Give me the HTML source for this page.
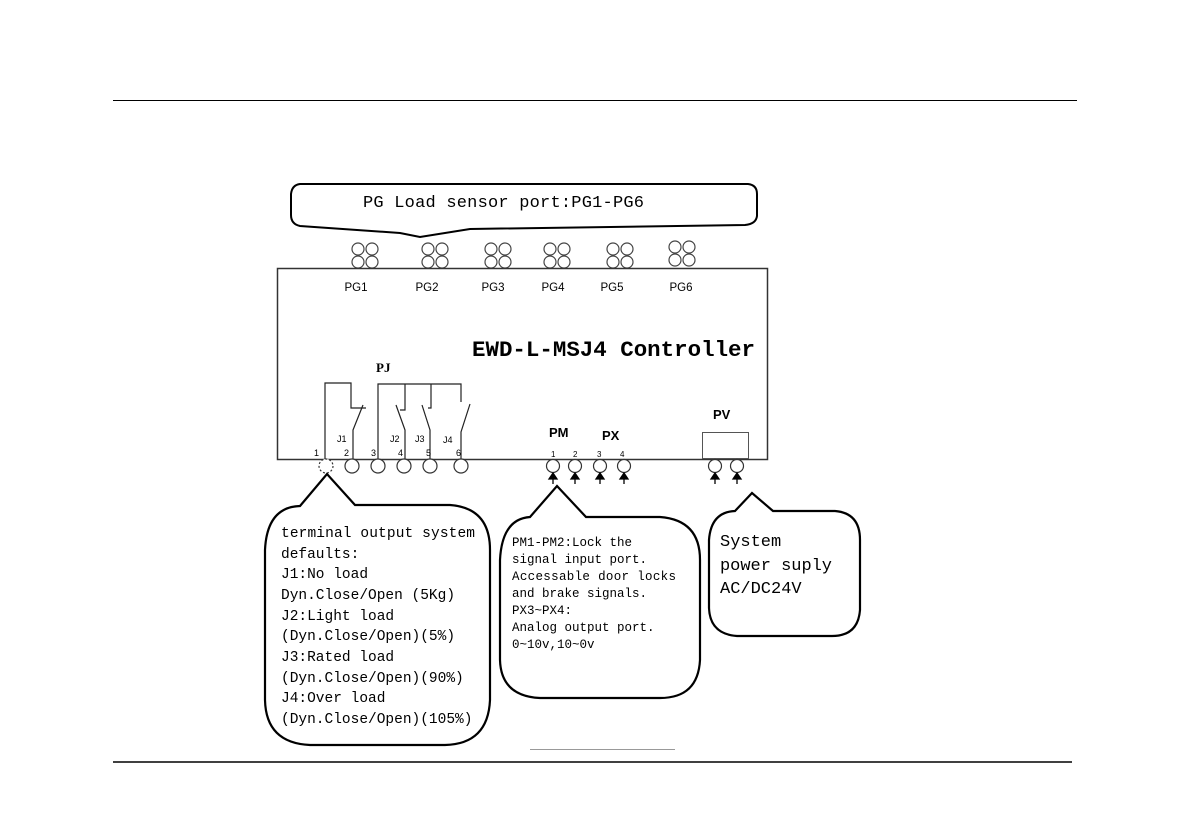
<!DOCTYPE html>
<html><head><meta charset="utf-8"><style>
html,body{margin:0;padding:0;background:#fff;}
svg{display:block;}
.m{font-family:"Liberation Mono","Noto Serif CJK SC",monospace;fill:#000;}
.s{font-family:"Liberation Sans",sans-serif;fill:#000;}
</style></head><body>
<svg width="1192" height="829" viewBox="0 0 1192 829" xmlns="http://www.w3.org/2000/svg">
<line x1="113" y1="100.5" x2="1077" y2="100.5" stroke="#000" stroke-width="1"/>
<line x1="113" y1="762" x2="1072" y2="762" stroke="#000" stroke-width="1.6"/>
<line x1="530" y1="749.5" x2="675" y2="749.5" stroke="#999" stroke-width="1"/>

<path d="M300,184 L748,184 Q757,185 757,194 L757,216 Q756,224 745,225 L470,229 L420,237 L400,233 L300,226 Q291,224 291,215 L291,194 Q292,185 300,184 Z" fill="#fff" stroke="#000" stroke-width="2"/>
<text class="m" x="363" y="207" font-size="17" textLength="281">PG Load sensor port:PG1-PG6</text>

<g fill="none" stroke="#444" stroke-width="1.2">
<circle cx="358" cy="249" r="6"/><circle cx="372" cy="249" r="6"/><circle cx="358" cy="262" r="6"/><circle cx="372" cy="262" r="6"/>
<circle cx="428" cy="249" r="6"/><circle cx="442" cy="249" r="6"/><circle cx="428" cy="262" r="6"/><circle cx="442" cy="262" r="6"/>
<circle cx="491" cy="249" r="6"/><circle cx="505" cy="249" r="6"/><circle cx="491" cy="262" r="6"/><circle cx="505" cy="262" r="6"/>
<circle cx="550" cy="249" r="6"/><circle cx="564" cy="249" r="6"/><circle cx="550" cy="262" r="6"/><circle cx="564" cy="262" r="6"/>
<circle cx="613" cy="249" r="6"/><circle cx="627" cy="249" r="6"/><circle cx="613" cy="262" r="6"/><circle cx="627" cy="262" r="6"/>
<circle cx="675" cy="247" r="6"/><circle cx="689" cy="247" r="6"/><circle cx="675" cy="260" r="6"/><circle cx="689" cy="260" r="6"/>
</g>

<rect x="277.5" y="268.5" width="490" height="191" fill="#fff" stroke="#333" stroke-width="1.5"/>
<g class="s" font-size="11.5">
<text x="356" y="291" text-anchor="middle">PG1</text>
<text x="427" y="291" text-anchor="middle">PG2</text>
<text x="493" y="291" text-anchor="middle">PG3</text>
<text x="553" y="291" text-anchor="middle">PG4</text>
<text x="612" y="291" text-anchor="middle">PG5</text>
<text x="681" y="291" text-anchor="middle">PG6</text>
</g>
<text x="472" y="356" font-family="Liberation Mono,monospace" font-weight="bold" font-size="22" textLength="283" lengthAdjust="spacingAndGlyphs">EWD-L-MSJ4 Controller</text>
<text x="376" y="372" font-family="Liberation Serif,serif" font-weight="bold" font-size="13">PJ</text>

<g stroke="#222" stroke-width="1.2" fill="none">
<polyline points="325,459 325,383 351,383 351,408 366,408"/>
<polyline points="353,459 353,430 363,405"/>
<polyline points="378,459 378,384 461,384 461,402"/>
<polyline points="405,384 405,410 400,410"/>
<polyline points="405,459 405,430 396,405"/>
<polyline points="431,384 431,408 428,408"/>
<polyline points="430,459 430,430 422,405"/>
<polyline points="461,459 461,432 470,404"/>
</g>
<g class="s" font-size="9" fill="#333">
<text x="337" y="442">J1</text><text x="390" y="442">J2</text><text x="415" y="442">J3</text><text x="443" y="443">J4</text>
<text x="314" y="456">1</text><text x="344" y="456">2</text><text x="371" y="456">3</text><text x="398" y="456">4</text><text x="426" y="456">5</text><text x="456" y="456">6</text>
</g>
<g fill="#fff" stroke="#333" stroke-width="1.2">
<circle cx="326" cy="466" r="7" stroke-dasharray="2,2"/><circle cx="352" cy="466" r="7"/><circle cx="378" cy="466" r="7"/><circle cx="404" cy="466" r="7"/><circle cx="430" cy="466" r="7"/><circle cx="461" cy="466" r="7"/>
</g>

<g class="s" font-weight="bold" font-size="13">
<text x="549" y="437">PM</text><text x="602" y="440">PX</text><text x="713" y="419">PV</text>
</g>
<g class="s" font-size="8"><text x="551" y="457">1</text><text x="573" y="457">2</text><text x="597" y="457">3</text><text x="620" y="457">4</text></g>
<rect x="702.5" y="432.5" width="46" height="26" fill="none" stroke="#555"/>
<g fill="#fff" stroke="#333" stroke-width="1.2">
<circle cx="553" cy="466" r="6.5"/><circle cx="575" cy="466" r="6.5"/><circle cx="600" cy="466" r="6.5"/><circle cx="624" cy="466" r="6.5"/>
<circle cx="715" cy="466" r="6.5"/><circle cx="737" cy="466" r="6.5"/>
</g>
<g stroke="#000" stroke-width="1.3" fill="#000">
<line x1="553" y1="484" x2="553" y2="476"/><polygon points="549,479 557,479 553,473"/>
<line x1="575" y1="484" x2="575" y2="476"/><polygon points="571,479 579,479 575,473"/>
<line x1="600" y1="484" x2="600" y2="476"/><polygon points="596,479 604,479 600,473"/>
<line x1="624" y1="484" x2="624" y2="476"/><polygon points="620,479 628,479 624,473"/>
<line x1="715" y1="484" x2="715" y2="476"/><polygon points="711,479 719,479 715,473"/>
<line x1="737" y1="484" x2="737" y2="476"/><polygon points="733,479 741,479 737,473"/>
</g>

<path d="M300,506 L327,474 L355,505 L450,505 Q490,508 490,550 L490,700 Q488,744 445,745 L310,745 Q266,743 265,700 L265,550 Q267,507 300,506 Z" fill="#fff" stroke="#000" stroke-width="2.2"/>
<g class="m" font-size="14.5">
<text x="281" y="537" textLength="194">terminal output system</text>
<text x="281" y="558">defaults:</text>
<text x="281" y="578">J1:No load</text>
<text x="281" y="599">Dyn.Close/Open (5Kg)</text>
<text x="281" y="620">J2:Light load</text>
<text x="281" y="640">(Dyn.Close/Open)(5%)</text>
<text x="281" y="661">J3:Rated load</text>
<text x="281" y="682">(Dyn.Close/Open)(90%)</text>
<text x="281" y="702">J4:Over load</text>
<text x="281" y="723">(Dyn.Close/Open)(105%)</text>
</g>

<path d="M530,517 L557,486 L586,517 L660,517 Q700,520 700,560 L700,660 Q698,698 660,698 L540,698 Q501,696 500,660 L500,560 Q502,519 530,517 Z" fill="#fff" stroke="#000" stroke-width="2.2"/>
<g class="m" font-size="12.5">
<text x="512" y="546">PM1-PM2:Lock the</text>
<text x="512" y="563">signal input port.</text>
<text x="512" y="580" textLength="164">Accessable door locks</text>
<text x="512" y="597">and brake signals.</text>
<text x="512" y="614">PX3~PX4:</text>
<text x="512" y="631">Analog output port.</text>
<text x="512" y="648">0~10v,10~0v</text>
</g>

<path d="M735,511 L752,493 L773,511 L835,511 Q860,513 860,540 L860,610 Q858,636 832,636 L737,636 Q710,634 709,608 L709,540 Q711,512 735,511 Z" fill="#fff" stroke="#000" stroke-width="2.2"/>
<g class="m" font-size="17">
<text x="720" y="546">System</text>
<text x="720" y="570" textLength="112">power suply</text>
<text x="720" y="593">AC/DC24V</text>
</g>
</svg>
</body></html>
